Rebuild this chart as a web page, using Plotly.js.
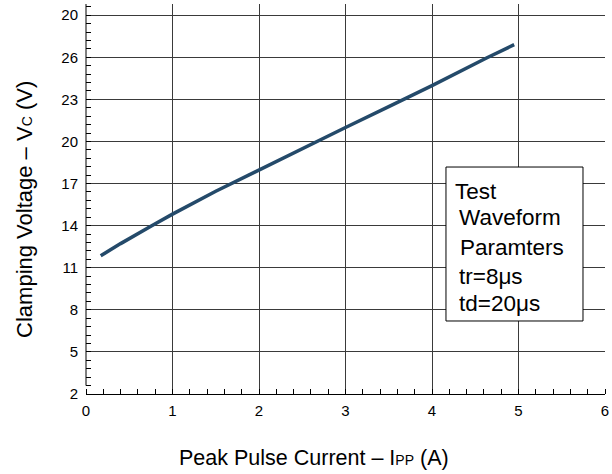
<!DOCTYPE html>
<html>
<head>
<meta charset="utf-8">
<script src="https://cdn.plot.ly/plotly-3.0.1.min.js"></script>
<style>html,body{margin:0;padding:0;background:#fff;}#chart{width:612px;height:474px;}</style>
</head>
<body>
<div id="chart"></div>
<script>
// Data
var peakCurrent = [0.17, 0.4, 0.76, 1.0, 1.5, 2.0, 2.65, 3.0, 3.5, 4.0, 4.63, 4.95];
var clampVoltage = [11.85, 12.72, 14.0, 14.82, 16.45, 17.98, 19.95, 21.0, 22.48, 23.98, 25.95, 26.9];

var xTickVals = [0, 1, 2, 3, 4, 5, 6];
var xTickText = ["0", "1", "2", "3", "4", "5", "6"];
var xGridVals = [1, 2, 3, 4, 5];
var yTickVals = [2, 5, 8, 11, 14, 17, 20, 23, 26, 29];
var yTickText = ["2", "5", "8", "11", "14", "17", "20", "23", "26", "20"];

var boxLines = ["Test", "Waveform", "Paramters", "tr=8\u03bcs", "td=20\u03bcs"];
var boxLineX = [0.7066, 0.7143, 0.7168, 0.7148, 0.7148];
var boxLineY = [0.5187, 0.4513, 0.3769, 0.3008, 0.2333];

var FONT = "Liberation Sans, Arial, Helvetica, sans-serif";

var traces = [
  {
    x: peakCurrent, y: clampVoltage, type: "scatter", mode: "lines",
    line: {color: "#244a6a", width: 3.5},
    hoverinfo: "skip", showlegend: false
  },
  {
    x: peakCurrent, y: clampVoltage, xaxis: "x2", type: "scatter", mode: "lines",
    line: {color: "rgba(0,0,0,0)", width: 0}, hoverinfo: "skip", showlegend: false
  }
];

var annotations = [
  {
    xref: "paper", yref: "paper", x: 0.44, y: -0.164, xanchor: "center", yanchor: "middle",
    text: "Peak Pulse Current \u2013 I<span style=\"font-size:14px\">PP</span> (A)", showarrow: false,
    font: {family: FONT, size: 21.5, color: "#000"}
  },
  {
    xref: "paper", yref: "paper", x: -0.1175, y: 0.472, xanchor: "center", yanchor: "middle",
    text: "Clamping Voltage \u2013 V<span style=\"font-size:14px\">C</span> (V)", showarrow: false, textangle: -90,
    font: {family: FONT, size: 22, color: "#000"}
  }
];
for (var i = 0; i < boxLines.length; i++) {
  annotations.push({
    xref: "paper", yref: "paper", x: boxLineX[i], y: boxLineY[i], xanchor: "left", yanchor: "middle",
    text: boxLines[i], showarrow: false, font: {family: FONT, size: 22.5, color: "#000"}
  });
}

var layout = {
  width: 612, height: 474,
  margin: {l: 86, r: 7, t: 4, b: 80},
  paper_bgcolor: "#fff", plot_bgcolor: "#fff",
  font: {family: FONT, color: "#000"},
  showlegend: false,
  xaxis: {
    range: [0, 6], tickmode: "array", tickvals: xTickVals, ticktext: xTickText,
    showgrid: false, zeroline: false, showline: true, linecolor: "#000", linewidth: 1,
    ticks: "", ticklabelstandoff: 3, tickfont: {family: FONT, size: 15, color: "#000"},
    minor: {tickmode: "linear", tick0: 0, dtick: 0.2, ticks: "inside", ticklen: 5, tickcolor: "#000", tickwidth: 1, showgrid: false}
  },
  xaxis2: {
    overlaying: "x", anchor: "y", range: [0, 6], tickmode: "array", tickvals: xGridVals,
    showgrid: true, gridcolor: "#3a3a3a", gridwidth: 1, showticklabels: false, ticks: "",
    zeroline: false, showline: false
  },
  yaxis: {
    range: [2, 29.8], tickmode: "array", tickvals: yTickVals, ticktext: yTickText,
    showgrid: true, gridcolor: "#3a3a3a", gridwidth: 1, zeroline: false, showline: false,
    ticks: "", ticklabelstandoff: 7, tickfont: {family: FONT, size: 15, color: "#000"},
    minor: {tickmode: "linear", tick0: 2, dtick: 0.6, ticks: "inside", ticklen: 5, tickcolor: "#000", tickwidth: 1, showgrid: false}
  },
  shapes: [
    {type: "line", xref: "paper", x0: 0, x1: 0, yref: "y", y0: 2.6, y1: 29.8, line: {color: "#000", width: 1}},
    {type: "rect", xref: "paper", yref: "paper", x0: 0.6936, x1: 0.9576, y0: 0.1872, y1: 0.582,
     fillcolor: "#fff", line: {color: "#000", width: 1}, layer: "above"}
  ],
  annotations: annotations
};

Plotly.newPlot("chart", traces, layout, {displayModeBar: false, staticPlot: true});
</script>
</body>
</html>
